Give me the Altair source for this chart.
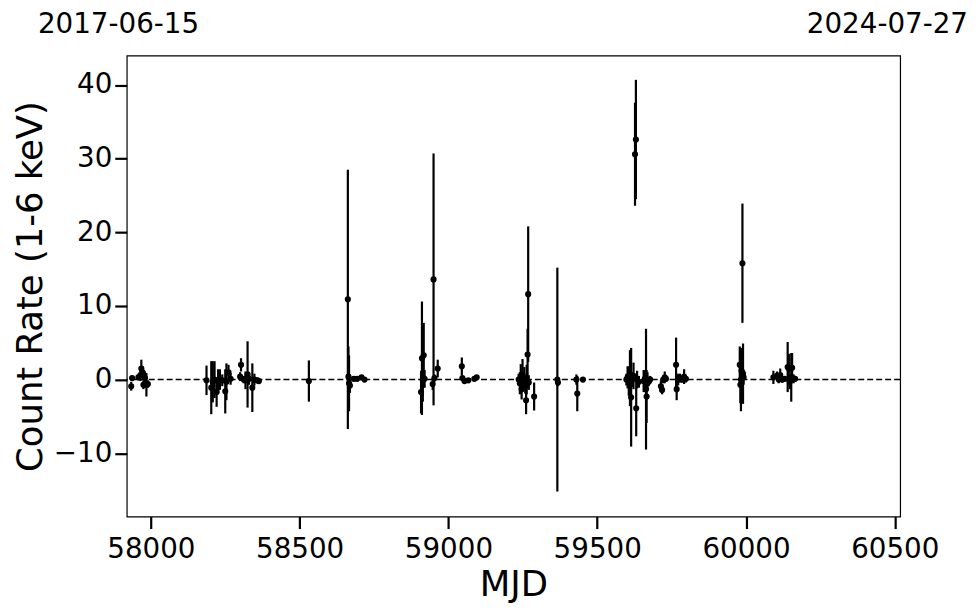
import altair as alt
import pandas as pd

# ---- data ----
mjd = [
    57934, 57937, 57958, 57965, 57968, 57972, 57975, 57980, 57985, 57990,
    58187, 58203, 58208, 58214, 58221, 58226, 58232, 58240, 58250, 58254, 58261, 58268,
    58300, 58303, 58312, 58318, 58325, 58330, 58341, 58348, 58358, 58363,
    58531,
    58662, 58664, 58666, 58669, 58682, 58693, 58708, 58718,
    58908, 58911, 58914, 58917, 58920, 58947, 58950, 58953, 58964,
    59045, 59047, 59054, 59067, 59087, 59095,
    59236, 59240, 59243, 59246, 59249, 59252, 59255, 59258, 59261, 59263, 59266, 59268, 59270, 59288,
    59366, 59368, 59430, 59433, 59452,
    59598, 59602, 59606, 59610, 59614, 59618, 59622, 59627, 59630, 59631, 59634, 59640,
    59656, 59660, 59664, 59666, 59669, 59673, 59678,
    59714, 59718, 59722, 59727, 59731, 59765, 59767, 59772, 59778, 59785, 59792, 59798,
    59979, 59981, 59983, 59985, 59988, 59990, 59992,
    60092, 60104, 60110, 60115, 60122, 60130, 60140, 60144, 60147, 60152, 60155, 60160, 60165,
]
rate = [
    -0.9, 0.2, 0.3, 0.6, 1.5, 1.0, -0.7, 0.2, -0.7, -0.6,
    -0.1, -1.1, -0.3, 0.0, -1.7, -0.2, 0.0, -0.1, -1.6, -0.3, 1.0, 0.1,
    0.4, 2.0, 0.0, -0.1, 0.7, 0.1, -1.1, 0.0, -0.1, -0.2,
    -0.2,
    10.9, 0.4, -0.5, -0.8, 0.1, 0.1, 0.3, 0.0,
    -1.7, 2.9, 0.0, 3.3, 0.1, -0.6, 13.6, 0.2, 1.5,
    1.8, 0.2, -0.2, -0.1, 0.1, 0.3,
    0.0, -0.5, 0.3, -1.3, 0.6, -0.3, 0.2, -0.9, -2.8, 0.0, 3.4, 11.6, -0.4, -2.3,
    0.0, -0.4, 0.0, -1.9, 0.0,
    0.0, 0.3, -0.2, 0.2, -2.4, 0.0, 0.5, 30.6, 32.6, -3.9, 0.0, -0.3,
    -0.2, 0.1, -1.3, -2.3, 0.0, -0.3, 0.0,
    -0.9, -1.4, 0.0, 0.3, 0.1, 2.0, -1.3, 0.0, 0.2, 0.0, 0.4, 0.1,
    2.0, -0.7, 0.0, 1.2, 15.8, 0.8, 0.3,
    0.3, 0.5, 0.0, 0.6, 0.0, 0.1, 1.7, 1.5, -0.3, 0.3, 1.6, 0.1, 0.1,
]
err = [
    0.6, 0.3, 0.4, 0.8, 1.2, 0.8, 0.6, 0.9, 1.6, 0.5,
    2.0, 3.6, 2.8, 2.5, 2.0, 1.6, 1.4, 0.8, 3.0, 2.5, 1.0, 0.8,
    0.6, 0.9, 0.5, 1.2, 4.5, 0.8, 3.3, 0.8, 0.4, 0.3,
    2.8,
    17.6, 4.1, 3.8, 1.0, 0.3, 0.3, 0.3, 0.3,
    2.9, 7.7, 3.0, 4.4, 1.2, 0.8, 17.1, 0.5, 1.2,
    1.2, 0.3, 0.3, 0.2, 0.2, 0.2,
    0.8, 1.5, 1.8, 1.4, 2.2, 1.2, 1.5, 1.0, 1.9, 2.0, 3.5, 9.2, 1.0, 1.9,
    15.2, 0.5, 0.7, 2.4, 0.3,
    0.8, 1.5, 2.0, 3.8, 6.7, 1.0, 1.8, 7.0, 8.1, 3.8, 1.2, 0.8,
    1.5, 1.2, 8.2, 3.6, 1.0, 0.6, 0.5,
    0.8, 0.6, 0.5, 0.8, 0.4, 3.7, 1.5, 0.8, 0.6, 0.4, 1.0, 0.5,
    2.5, 2.5, 4.3, 1.5, 8.1, 4.1, 1.0,
    0.9, 0.6, 0.5, 0.9, 0.4, 0.3, 3.4, 2.0, 1.0, 3.3, 2.0, 0.6, 0.4,
]
x_domain = [57919, 60518]
y_domain = [-18.6, 44.0]
x_ticks = [58000, 58500, 59000, 59500, 60000, 60500]
y_ticks = [-10, 0, 10, 20, 30, 40]
start_label = "2017-06-15"
end_label = "2024-07-27"

df = pd.DataFrame({"mjd": mjd, "rate": rate, "err": err})
df["lo"] = df["rate"] - df["err"]
df["hi"] = df["rate"] + df["err"]

FONT = "DejaVu Sans"
W, H = 775, 462
LBL = 27.8
TTL = 35.5

xs = alt.Scale(domain=x_domain, nice=False, zero=False)
ys = alt.Scale(domain=y_domain, nice=False, zero=False)

xaxis = alt.Axis(values=x_ticks, format="d", title="MJD", grid=False, domain=False,
                 tickSize=12, tickWidth=2.2, tickColor="black",
                 labelFontSize=LBL, labelFont=FONT, labelColor="black", labelPadding=7,
                 titleFontSize=TTL, titleFont=FONT, titleFontWeight="normal",
                 titleColor="black", titlePadding=4)
yaxis = alt.Axis(values=y_ticks, title="Count Rate (1-6 keV)", grid=False, domain=False,
                 tickSize=12, tickWidth=2.2, tickColor="black",
                 labelFontSize=LBL, labelFont=FONT, labelColor="black", labelPadding=3,
                 titleFontSize=TTL, titleFont=FONT, titleFontWeight="normal",
                 titleColor="black", titlePadding=5)

base = alt.Chart(df)

bars = base.mark_rule(color="black", strokeWidth=2.2).encode(
    x=alt.X("mjd:Q", scale=xs, axis=xaxis),
    y=alt.Y("lo:Q", scale=ys, axis=yaxis),
    y2="hi:Q",
)
pts = base.mark_circle(color="black", opacity=1, size=38).encode(
    x=alt.X("mjd:Q", scale=xs),
    y=alt.Y("rate:Q", scale=ys),
)
zero = alt.Chart(pd.DataFrame({"y": [0]})).mark_rule(
    color="black", strokeWidth=1.5, strokeDash=[6, 3]
).encode(y=alt.Y("y:Q", scale=ys))

labels = alt.Chart(pd.DataFrame({"t": [start_label]})).mark_text(
    font=FONT, fontSize=LBL, align="left", baseline="middle", color="black"
).encode(text="t:N", x=alt.value(-89), y=alt.value(-31))
labels2 = alt.Chart(pd.DataFrame({"t": [end_label]})).mark_text(
    font=FONT, fontSize=LBL, align="right", baseline="middle", color="black"
).encode(text="t:N", x=alt.value(843), y=alt.value(-31))

chart = alt.layer(zero, bars, pts, labels, labels2).properties(
    width=W, height=H,
    background="white",
    autosize=alt.AutoSizeParams(type="none"),
    padding={"left": 119, "top": 47, "right": 72, "bottom": 95},
).configure_view(stroke="black", strokeWidth=1.2)

chart.save("out.html", embed_options={"renderer": "svg", "actions": False})
